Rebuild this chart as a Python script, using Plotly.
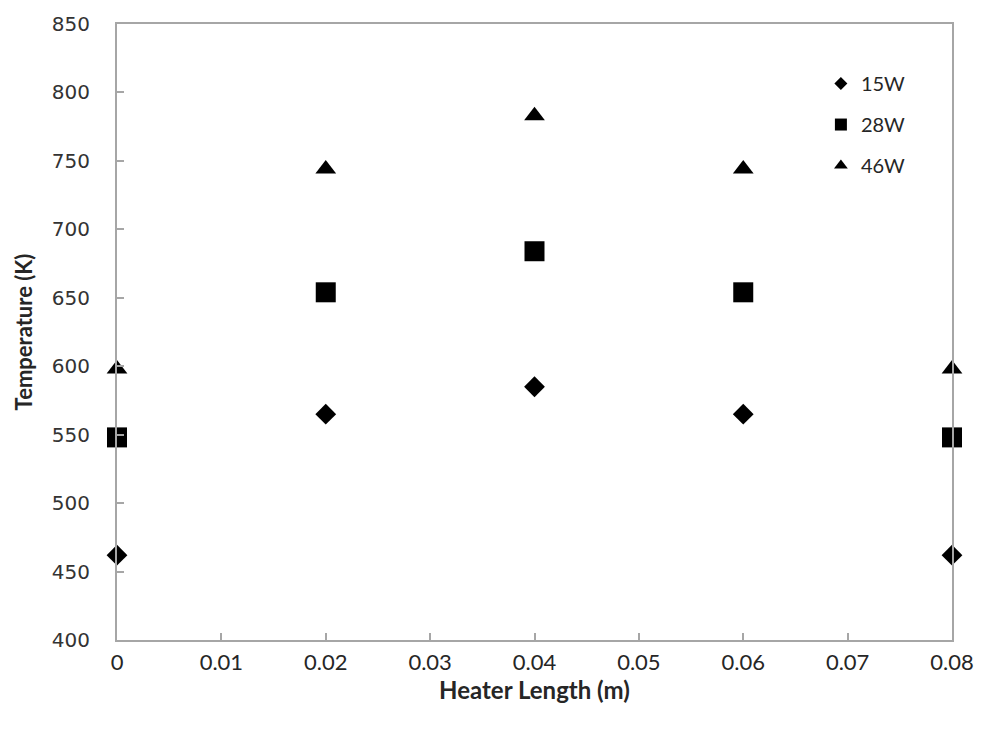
import plotly.graph_objects as go

x_vals = [0, 0.02, 0.04, 0.06, 0.08]
t_15w = [462, 565, 585, 565, 462]
t_28w = [548, 654, 684, 654, 548]
t_46w = [598, 744, 783, 744, 598]
series_names = ["15W", "28W", "46W"]
symbols = ["diamond", "square", "triangle-up"]
plot_sizes = [16, 20, 18]
legend_sizes = [10, 12, 12]
x_ticks = [0, 0.01, 0.02, 0.03, 0.04, 0.05, 0.06, 0.07, 0.08]
x_tick_text = ["0", "0.01", "0.02", "0.03", "0.04", "0.05", "0.06", "0.07", "0.08"]
y_ticks = [400, 450, 500, 550, 600, 650, 700, 750, 800, 850]

fig = go.Figure()
for name, ys, sym, sz in zip(series_names, [t_15w, t_28w, t_46w], symbols, plot_sizes):
    fig.add_trace(go.Scatter(x=x_vals, y=ys, mode="markers", name=name,
                             marker=dict(symbol=sym, size=sz, color="black"),
                             showlegend=False, cliponaxis=False))
for i, (name, sym, sz) in enumerate(zip(series_names, symbols, legend_sizes)):
    fig.add_trace(go.Scatter(x=[None], y=[None], mode="markers", name=name,
                             legendgroup=f"g{i}",
                             marker=dict(symbol=sym, size=sz, color="black")))

axis_common = dict(showgrid=False, zeroline=False, showline=True, linecolor="#a6a6a6",
                   linewidth=2, mirror=True, ticks="inside", ticklen=7, tickcolor="#a6a6a6",
                   tickwidth=1.5)

fig.update_xaxes(range=[0, 0.08], tickvals=x_ticks, ticktext=x_tick_text,
                 tickfont=dict(family="Lato", size=22, color="#262626"),
                 ticklabelstandoff=2,
                 title=dict(text="<b>Heater Length (m)</b>",
                            font=dict(family="Lato", size=24, color="#262626"), standoff=6),
                 **axis_common)
fig.update_yaxes(range=[400, 850], tickvals=y_ticks,
                 tickfont=dict(family="DejaVu Sans", size=20, color="#333333"),
                 ticklabelstandoff=21,
                 title=dict(text="<b>Temperature (K)</b>",
                            font=dict(family="Lato", size=22, color="#262626"), standoff=13),
                 **axis_common)

fig.update_layout(
    width=986, height=729,
    margin=dict(l=117, r=28, t=21, b=89),
    plot_bgcolor="white", paper_bgcolor="white",
    legend=dict(x=0.843, y=0.935, xanchor="left", yanchor="top",
                font=dict(family="Lato", size=20, color="#262626"),
                tracegroupgap=12, itemwidth=30, bgcolor="rgba(0,0,0,0)"),
)

fig.write_html("out.html")
